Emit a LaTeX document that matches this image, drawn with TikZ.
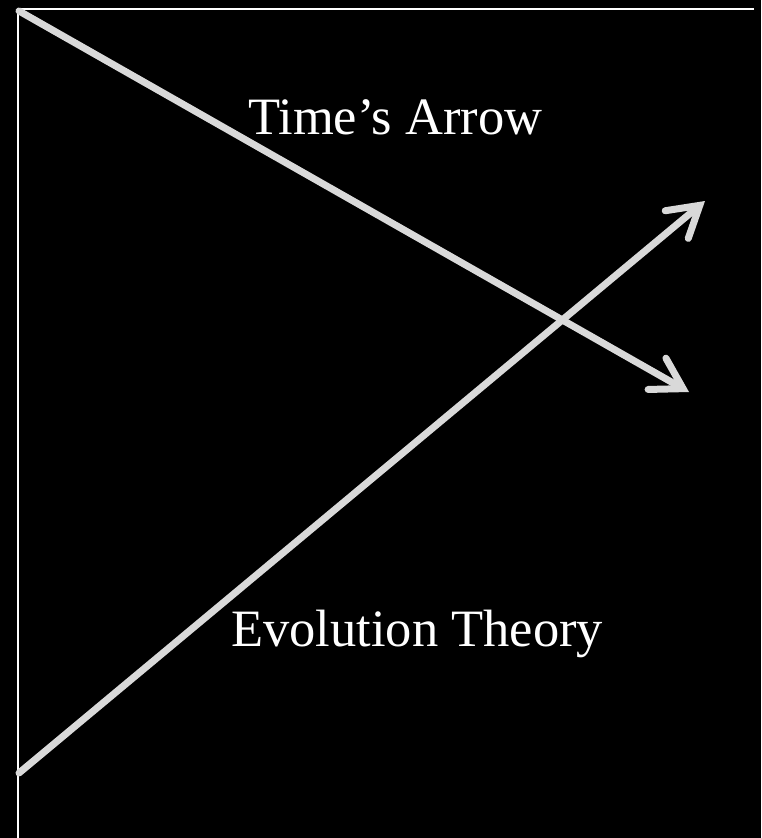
\documentclass[tikz,border=0pt]{standalone}
\usepackage{fontspec}
\setmainfont{Liberation Serif}
\usetikzlibrary{arrows.meta}
\definecolor{arrowgray}{HTML}{D9D9D9}
\tikzset{
  bigarrow/.style={draw=arrowgray, line width=7pt, line cap=round, line join=round,
    -{Straight Barb[length=30pt,width=36pt,line cap=round,line join=miter]}},
  frameline/.style={draw=white, line width=2pt},
  label/.style={text=white, font=\fontsize{52.5}{60}\selectfont, inner sep=0pt, anchor=base west}
}
\begin{document}
\begin{tikzpicture}[x=1pt,y=-1pt]
\fill[black] (0,0) rectangle (761,838);
\useasboundingbox (0,0) rectangle (761,838);
\coordinate (tl) at (18,9);
\coordinate (tr) at (754,9);
\coordinate (bl) at (18,838);
\draw[frameline] (tr) -- (tl) -- (bl);
\coordinate (a1s) at (19,11);
\coordinate (a1e) at (689,392);
\coordinate (a2s) at (19,773);
\coordinate (a2e) at (705,201);
\draw[bigarrow] (a1s) -- (a1e);
\draw[bigarrow] (a2s) -- (a2e);
\node[label] (t1) at (248,134) {Time’s Arrow};
\node[label] (t2) at (231,646) {Evolution Theory};
\end{tikzpicture}
\end{document}
